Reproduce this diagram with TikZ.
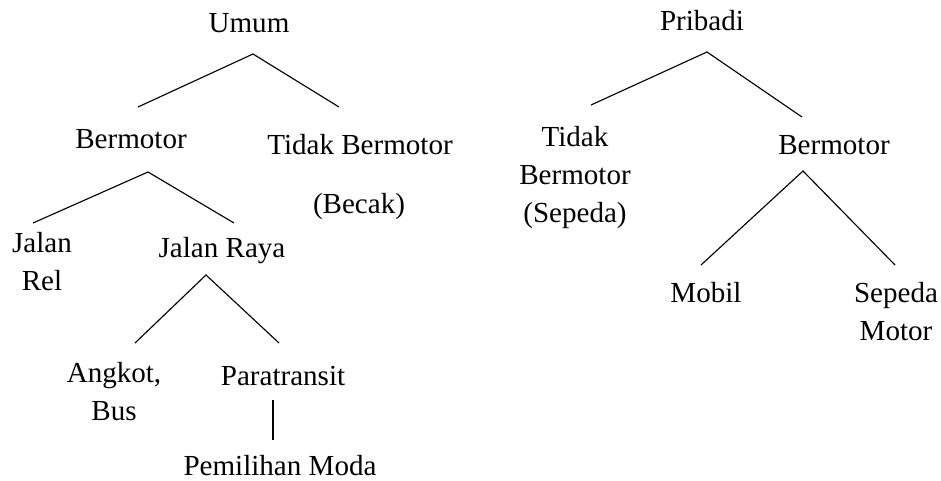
\documentclass[tikz,border=0pt]{standalone}
\usepackage{fontspec}
\setmainfont{Liberation Serif}
\begin{document}
\begin{tikzpicture}[x=0.75pt,y=-0.75pt,
  lbl/.style={inner sep=0pt,anchor=base,align=center,
    font=\fontsize{21.8}{28.2}\selectfont},
  branch/.style={line width=0.85pt,line cap=butt}]
\useasboundingbox (0,0) rectangle (941,481);

% ---- Umum (public) tree ----
% (multi-line labels are placed by the baseline of their last line)
\node[lbl] (umum)    at (249,33)  {Umum};
\node[lbl] (bm1)     at (131,148) {Bermotor};
\node[lbl] (tbm1)    at (360,155) {Tidak Bermotor};
\node[lbl] (becak)   at (359,213) {(Becak)};
\node[lbl] (rel)     at (42,290)  {Jalan\\Rel};
\node[lbl] (raya)    at (222,257) {Jalan Raya};
\node[lbl] (angkot)  at (114,420) {Angkot,\\Bus};
\node[lbl] (para)    at (283,385) {Paratransit};
\node[lbl] (moda)    at (280,475) {Pemilihan Moda};

% ---- Pribadi (private) tree ----
\node[lbl] (pribadi) at (702,31)  {Pribadi};
\node[lbl] (tbm2)    at (575,222) {Tidak\\Bermotor\\(Sepeda)};
\node[lbl] (bm2)     at (834,154) {Bermotor};
\node[lbl] (mobil)   at (706,302) {Mobil};
\node[lbl] (motor)   at (896,340) {Sepeda\\Motor};

% branch points and branch ends
\coordinate (umum-out) at (253,54);
\coordinate (bm1-in)   at (138,107);
\coordinate (tbm1-in)  at (339,107);
\coordinate (bm1-out)  at (148,172);
\coordinate (rel-in)   at (33,223);
\coordinate (raya-in)  at (234,223);
\coordinate (raya-out) at (206,275);
\coordinate (angkot-in) at (135,343);
\coordinate (para-in)  at (279,343);
\coordinate (para-out) at (273,400);
\coordinate (moda-in)  at (273,440);
\coordinate (prib-out) at (707,52);
\coordinate (tbm2-in)  at (591,105);
\coordinate (bm2-in)   at (802,117);
\coordinate (bm2-out)  at (803,171);
\coordinate (mobil-in) at (701,265);
\coordinate (motor-in) at (895,265);

% connectors
\draw[branch] (bm1-in) -- (umum-out) -- (tbm1-in);
\draw[branch] (rel-in) -- (bm1-out) -- (raya-in);
\draw[branch] (angkot-in) -- (raya-out) -- (para-in);
\draw[branch] (para-out) -- (moda-in);
\draw[branch] (tbm2-in) -- (prib-out) -- (bm2-in);
\draw[branch] (mobil-in) -- (bm2-out) -- (motor-in);
\end{tikzpicture}
\end{document}
